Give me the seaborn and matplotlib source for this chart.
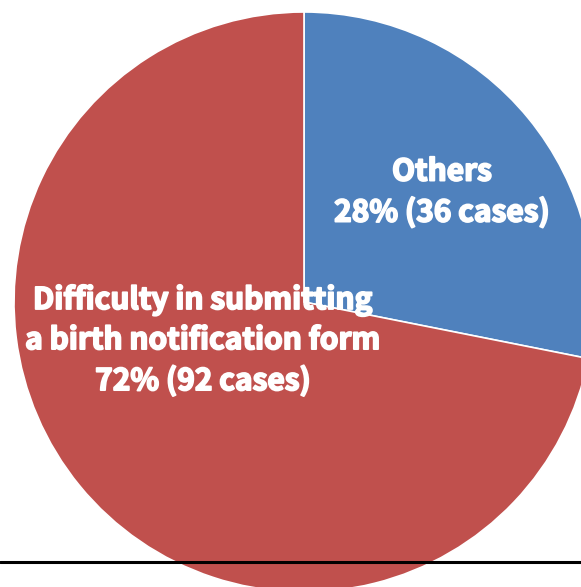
import matplotlib
matplotlib.use('Agg')
import matplotlib.pyplot as plt
import matplotlib.patheffects as pe
import seaborn as sns
from matplotlib.lines import Line2D

# =========================
# DATA
# =========================
categories = ['Others', 'Difficulty in submitting\na birth notification form']
cases = [36, 92]
colors = ['#4F81BD', '#C0504D']

sns.set_theme(style='white')
plt.rcParams['font.family'] = ['Noto Sans CJK KR', 'DejaVu Sans']

W, H = 581, 587
fig = plt.figure(figsize=(W / 100, H / 100), dpi=100)

# pie centre at (304, 302) px, radius 290 px
cx, cy, r = 304, 302, 290
ax = fig.add_axes([(cx - r) / W, (H - cy - r) / H, 2 * r / W, 2 * r / H])

wedges, _ = ax.pie(cases, colors=colors, startangle=90, counterclock=False,
                   radius=1, wedgeprops=dict(edgecolor='white', linewidth=1.2))
ax.set_xlim(-1, 1)
ax.set_ylim(-1, 1)
ax.set_aspect('equal')
ax.axis('off')

# heavier look for the labels
heavy = [pe.withStroke(linewidth=1.3, foreground='white')]

total = sum(cases)
label_pos = [(0.476, 0.379), (-0.348, -0.133)]
for cat, n, (x, y) in zip(categories, cases, label_pos):
    pct = round(n / total * 100)
    ax.text(x, y, f'{cat}\n{pct}% ({n} cases)', ha='center', va='center',
            color='white', fontsize=21.5, fontweight='bold', linespacing=1.42,
            path_effects=heavy)

# black rule near the bottom
fig.add_artist(Line2D([0, 1], [1 - 562 / H, 1 - 562 / H], color='black',
                      linewidth=2.2, transform=fig.transFigure))

fig.savefig('out.png', dpi=100)
